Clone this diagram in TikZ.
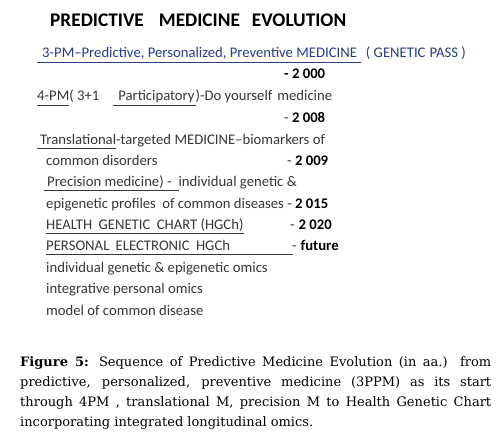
\documentclass[tikz,border=0pt]{standalone}
\usepackage{fontspec}
\setmainfont{Carlito}
\newfontfamily\capfont{DejaVu Serif}
\usepackage{tikz}
\usetikzlibrary{positioning}
\definecolor{pmblue}{RGB}{40,60,135}
\definecolor{pmgrey}{RGB}{55,55,55}
\tikzset{
  txt/.style={anchor=base west, inner sep=0pt, text=pmgrey, font=\fontsize{14.7}{17}\selectfont},
  yr/.style={txt, text=black},
  ttl/.style={anchor=base west, inner sep=0pt, font=\fontsize{19.3}{22}\selectfont\bfseries}
}
\newcommand{\uln}[1]{\underline{#1\vphantom{y}}}

\begin{document}
\begin{tikzpicture}[x=1pt,y=-1pt]
\path[use as bounding box, fill=white] (0,0) rectangle (501,436);
% title
\node[ttl] (title) at (50,27) {PREDICTIVE\hspace{15pt}MEDICINE\hspace{12pt}EVOLUTION};
% timeline
\node[txt, text=pmblue] (pm3) at (37,58) {\uln{\hspace{5pt}3-PM–Predictive, Personalized, Preventive MEDICINE\hspace{4pt}}\hspace{5pt}( GENETIC\hspace{4pt}PASS )};
\node[yr] (y2000) at (284,79) {\textbf{- 2 000}};
\node[txt] (pm4) at (37,101) {\uln{4-PM}( 3+1\hspace{14pt}\uln{\hspace{5pt}Participatory\hspace{1pt}})-Do yourself\hspace{5pt}medicine};
\node[yr] (y2008) at (284,122) {{\color{pmgrey}-} \textbf{2 008}};
\node[txt] (transl) at (37,144) {\uln{\hspace{3pt}Translational}-targeted MEDICINE–biomarkers of};
\node[txt] (commdis) at (46,165) {common disorders};
\node[yr] (y2009) at (287,165) {{\color{pmgrey}-} \textbf{2 009}};
\node[txt] (precis) at (44,186) {\uln{\hspace{3pt}Precision medicine) -\hspace{7pt}}individual genetic \&};
\node[txt] (epig) at (46,208) {epigenetic profiles\hspace{3pt} of common diseases - {\color{black}\textbf{2 015}}};
\node[txt] (hgch) at (46,229) {\uln{HEALTH\hspace{3pt} GENETIC\hspace{3pt} CHART (HGCh)}};
\node[yr] (y2020) at (290,229) {{\color{pmgrey}-}\hspace{4pt}\textbf{2 020}};
\node[txt] (pehgch) at (46,250) {\uln{PERSONAL\hspace{3pt} ELECTRONIC\hspace{3pt} HGCh\hspace{63pt}}};
\node[yr] (yfut) at (292,250) {{\color{pmgrey}-}\hspace{4pt}\textbf{future}};
\node[txt] (omics1) at (46,272) {individual genetic \& epigenetic omics};
\node[txt] (omics2) at (46,293) {integrative personal omics};
\node[txt] (omics3) at (46,315) {model of common disease};
% caption
\node[anchor=base west, inner sep=0pt, text width=471pt, align=justify,
  font=\capfont\fontsize{13}{20}\selectfont] (caption) at (20,366)
  {\textbf{Figure 5:} Sequence of Predictive Medicine Evolution (in aa.) from\linebreak
   predictive, personalized, preventive medicine (3PPM) as its start\linebreak
   through 4PM , translational M, precision M to Health Genetic Chart\linebreak
   incorporating integrated longitudinal omics.};
\end{tikzpicture}
\end{document}
